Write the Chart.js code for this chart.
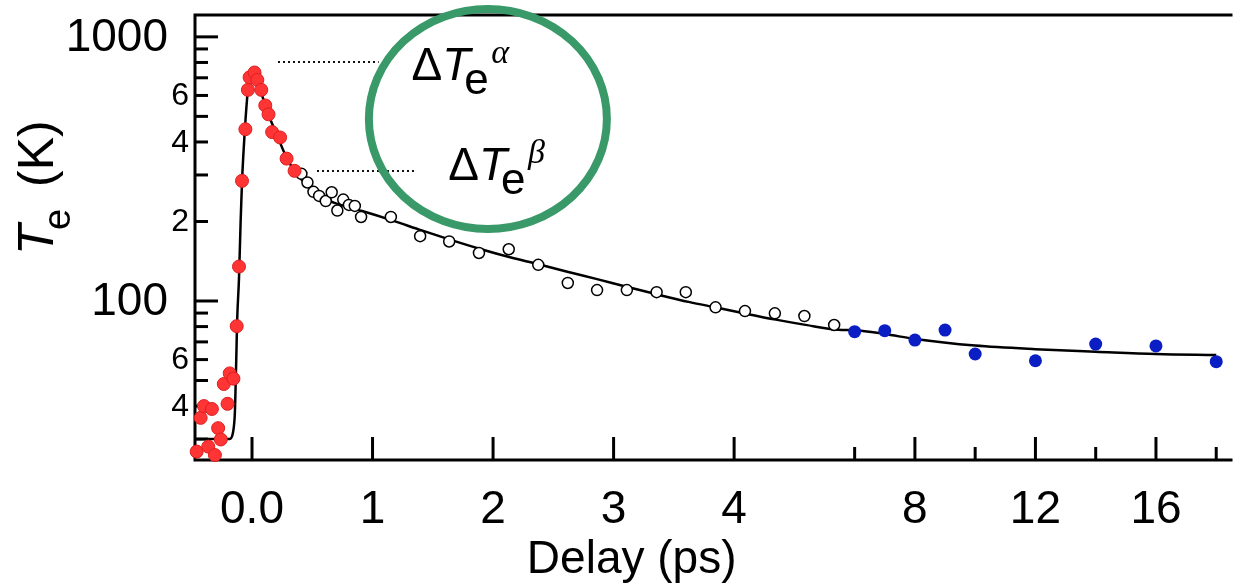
<!DOCTYPE html>
<html>
<head>
<meta charset="utf-8">
<title>Te vs delay</title>
<script src="https://cdn.jsdelivr.net/npm/chart.js@4.4.1/dist/chart.umd.min.js"></script>
<style>
  body { margin: 0; background: #fff; }
  #wrap { width: 1240px; height: 586px; }
</style>
</head>
<body>
<div id="wrap"><canvas id="teChart" width="1240" height="586"></canvas></div>
<script>
/**** Electron temperature vs delay ****/

// red points: rise and fast decay (ps, K)
var redDelay = [-0.459, -0.426, -0.399, -0.363, -0.333, -0.308, -0.281, -0.259, -0.234, -0.203,
                -0.185, -0.154, -0.127, -0.108, -0.083, -0.055, -0.034, -0.020, 0.021, 0.044,
                0.077, 0.110, 0.137, 0.167, 0.233, 0.287, 0.353];
var redTe = [26.9, 36.1, 40.0, 28.1, 39.0, 26.1, 33.0, 29.9, 48.5, 40.8,
             53.2, 50.8, 80.3, 135, 285, 447, 630, 703, 733, 687,
             630, 550, 509, 436, 416, 346, 311];

// open circles: slow decay
var openDelay = [0.410, 0.460, 0.510, 0.557, 0.612, 0.661, 0.708, 0.757, 0.804, 0.853,
                 0.905, 1.152, 1.395, 1.636, 1.883, 2.130, 2.375, 2.620, 2.863, 3.110,
                 3.357, 3.599, 3.846, 4.090, 4.338, 4.583, 4.830];
var openTe = [303, 281, 259, 250, 239, 258, 220, 242, 231, 229,
              208, 208, 176, 168, 152, 157, 137, 117, 110, 110,
              108, 108, 94.6, 91.6, 89.8, 87.7, 81.1];

// blue points: long delays (compressed part of the axis)
var blueDelay = [6, 7, 8, 9, 10, 12, 14, 16, 18];
var blueTe = [76.5, 77.2, 71.1, 77.6, 63.0, 59.4, 68.7, 67.6, 58.9];

// fit curve
var fitDelay = [-0.473, -0.185, -0.157, -0.143, -0.139, -0.129, -0.123, -0.108, -0.094, -0.083,
                -0.061, -0.034, -0.016, 0.007, 0.030, 0.077, 0.131, 0.200, 0.283, 0.365,
                0.502, 0.639, 0.777, 0.914, 1.161, 1.408, 1.655, 1.902, 2.149, 2.369,
                2.616, 2.863, 3.083, 3.357, 3.632, 3.852, 4.099, 4.346, 4.593, 4.867,
                6, 7, 8, 10, 12, 14, 16, 18];
var fitTe = [30, 30, 31.9, 37, 42, 65, 85, 122, 203, 282,
             433, 630, 711, 739, 718, 614, 515, 433, 352, 305,
             263, 240, 228, 219, 202, 185, 170, 157, 146, 138,
             129, 121, 114, 106, 99, 94.5, 89.5, 85, 81.2, 77.8,
             77.5, 75, 71.8, 67.8, 65.7, 64.3, 63, 62.4];

// axis ticks
var xMajor = [0, 1, 2, 3, 4, 8, 12, 16];
var xMajorText = ['0.0', '1', '2', '3', '4', '8', '12', '16'];
var xMinor = [6, 10, 14, 18];
var yTicks = [30, 40, 50, 60, 70, 80, 90, 100, 200, 300, 400, 500, 600, 700, 800, 900, 1000];
var yTickText = ['', '4', '', '6', '', '', '', '100', '2', '', '4', '', '6', '', '', '', '1000'];

// annotation levels (K) and where their dotted markers run (ps)
var alphaLevel = 800, alphaFrom = 0.219, alphaTo = 1.051;
var betaLevel = 311, betaFrom = 0.54, betaTo = 1.365;

var FONT = "'Liberation Sans', Arial, sans-serif";

// broken x axis: linear up to 5 ps, then 4x compressed from 6 ps on
function toU(t) {
    return t <= 5 ? t : 5 + (t - 6) / 4;
}

function pts(ts, vs) {
    return ts.map(function(t, i) { return { x: toU(t), y: vs[i] }; });
}

var xTickU = xMajor.concat(xMinor).map(toU).sort(function(a, b) { return a - b; });

function isMajor(v) {
    return v === 1000 || v === 100;
}

//**** frame, inward ticks, y labels, axis titles
var framePlugin = {
    id: 'frame',
    beforeDatasetsDraw: function(chart) {
        var ctx = chart.ctx, a = chart.chartArea;
        var xs = chart.scales.x, ys = chart.scales.y;
        ctx.save();
        ctx.strokeStyle = '#000';
        ctx.lineWidth = 3;
        ctx.beginPath();
        ctx.moveTo(a.right, a.top);
        ctx.lineTo(a.left, a.top);
        ctx.lineTo(a.left, a.bottom);
        ctx.lineTo(a.right, a.bottom);
        ctx.stroke();

        // y ticks and labels
        ctx.fillStyle = '#000';
        ctx.textAlign = 'right';
        ctx.textBaseline = 'middle';
        yTicks.forEach(function(v, i) {
            var py = ys.getPixelForValue(v);
            var len = isMajor(v) ? 23 : 13;
            ctx.beginPath();
            ctx.moveTo(a.left, py);
            ctx.lineTo(a.left + len, py);
            ctx.stroke();
            if (yTickText[i]) {
                ctx.font = (isMajor(v) ? 46 : 32) + 'px ' + FONT;
                ctx.fillText(yTickText[i], a.left - (isMajor(v) ? 27 : 6), py + 1);
            }
        });

        // x ticks, pointing up into the plot
        xMajor.forEach(function(t) {
            var px = xs.getPixelForValue(toU(t));
            ctx.beginPath();
            ctx.moveTo(px, a.bottom);
            ctx.lineTo(px, a.bottom - 23);
            ctx.stroke();
        });
        xMinor.forEach(function(t) {
            var px = xs.getPixelForValue(toU(t));
            ctx.beginPath();
            ctx.moveTo(px, a.bottom);
            ctx.lineTo(px, a.bottom - 13);
            ctx.stroke();
        });

        // x title
        ctx.textAlign = 'center';
        ctx.textBaseline = 'alphabetic';
        ctx.font = '46px ' + FONT;
        ctx.fillText('Delay (ps)', xs.getPixelForValue(3.15), 573);

        // y title, rotated: italic T, subscript e, (K)
        ctx.translate(53, 255);
        ctx.rotate(-Math.PI / 2);
        ctx.textAlign = 'left';
        ctx.font = 'italic 50px ' + FONT;
        ctx.fillText('T', 0, 0);
        ctx.font = '38px ' + FONT;
        ctx.fillText('e', 25, 17);
        ctx.font = '50px ' + FONT;
        ctx.fillText('(K)', 68, 0);
        ctx.restore();
    }
};

function drawDeltaT(ctx, x, y, sup) {
    ctx.font = '46px ' + FONT;
    ctx.fillText('\u0394', x, y);
    var tx = x + ctx.measureText('\u0394').width;
    ctx.font = 'italic 46px ' + FONT;
    ctx.fillText('T', tx, y);
    ctx.font = '44px ' + FONT;
    ctx.fillText('e', tx + 22, y + 14);
    ctx.font = "italic 34px 'Liberation Serif', 'DejaVu Serif', serif";
    ctx.fillText(sup, tx + 49, y - 17);
}

//**** green ring with the two delta-T labels
var annoPlugin = {
    id: 'anno',
    afterDraw: function(chart) {
        var ctx = chart.ctx, xs = chart.scales.x, ys = chart.scales.y;
        ctx.save();
        ctx.strokeStyle = '#111';
        ctx.lineWidth = 2;
        ctx.setLineDash([2, 3]);
        [[alphaLevel, alphaFrom, alphaTo], [betaLevel, betaFrom, betaTo]].forEach(function(l) {
            var py = Math.round(ys.getPixelForValue(l[0]));
            ctx.beginPath();
            ctx.moveTo(Math.round(xs.getPixelForValue(toU(l[1]))), py);
            ctx.lineTo(xs.getPixelForValue(toU(l[2])), py);
            ctx.stroke();
        });
        ctx.setLineDash([]);

        ctx.strokeStyle = '#3a9968';
        ctx.lineWidth = 8;
        ctx.beginPath();
        ctx.ellipse(xs.getPixelForValue(1.957), ys.getPixelForValue(489), 119, 110, 0, 0, 2 * Math.PI);
        ctx.stroke();

        ctx.fillStyle = '#000';
        ctx.textAlign = 'left';
        ctx.textBaseline = 'alphabetic';
        drawDeltaT(ctx, xs.getPixelForValue(1.323), ys.getPixelForValue(687), '\u03B1');
        drawDeltaT(ctx, xs.getPixelForValue(1.628), ys.getPixelForValue(287), '\u03B2');
        ctx.restore();
    }
};

var teChart = new Chart(document.getElementById('teChart'), {
    type: 'scatter',
    data: {
        datasets: [{
            label: 'rise',
            data: pts(redDelay, redTe),
            pointRadius: 6.5,
            pointBackgroundColor: '#ff3535',
            pointBorderColor: '#dc1f1f',
            pointBorderWidth: 1,
            clip: false
        }, {
            label: 'slow',
            data: pts(openDelay, openTe),
            pointRadius: 5.5,
            pointBackgroundColor: '#fff',
            pointBorderColor: '#000',
            pointBorderWidth: 1.5,
            clip: false
        }, {
            label: 'long',
            data: pts(blueDelay, blueTe),
            pointRadius: 6.5,
            pointBackgroundColor: '#0a1ec4',
            pointBorderColor: '#0a1ec4',
            pointBorderWidth: 0,
            clip: false
        }, {
            label: 'fit',
            data: pts(fitDelay, fitTe),
            showLine: true,
            pointRadius: 0,
            borderColor: '#000',
            borderWidth: 2.5,
            cubicInterpolationMode: 'monotone'
        }]
    },
    options: {
        responsive: false,
        animation: false,
        devicePixelRatio: 1,
        layout: { padding: { top: 15, left: 0, right: 0, bottom: 0 } },
        plugins: { legend: { display: false }, tooltip: { enabled: false } },
        scales: {
            x: {
                type: 'linear',
                min: -0.473,
                max: 8.135,
                grid: { display: false },
                border: { display: false },
                afterBuildTicks: function(axis) {
                    axis.ticks = xTickU.map(function(v) { return { value: v }; });
                },
                afterFit: function(axis) { axis.height = 126; },
                ticks: {
                    autoSkip: false,
                    maxRotation: 0,
                    minRotation: 0,
                    padding: 15,
                    color: '#000',
                    font: { family: FONT, size: 46 },
                    callback: function(value) {
                        for (var i = 0; i < xMajor.length; i++) {
                            if (Math.abs(toU(xMajor[i]) - value) < 1e-6) return xMajorText[i];
                        }
                        return '';
                    }
                }
            },
            y: {
                type: 'logarithmic',
                min: 25,
                max: 1210,
                grid: { display: false },
                border: { display: false },
                afterBuildTicks: function(axis) {
                    axis.ticks = yTicks.map(function(v) { return { value: v }; });
                },
                afterFit: function(axis) { axis.width = 195; },
                ticks: { display: false }
            }
        }
    },
    plugins: [framePlugin, annoPlugin]
});
</script>
</body>
</html>
